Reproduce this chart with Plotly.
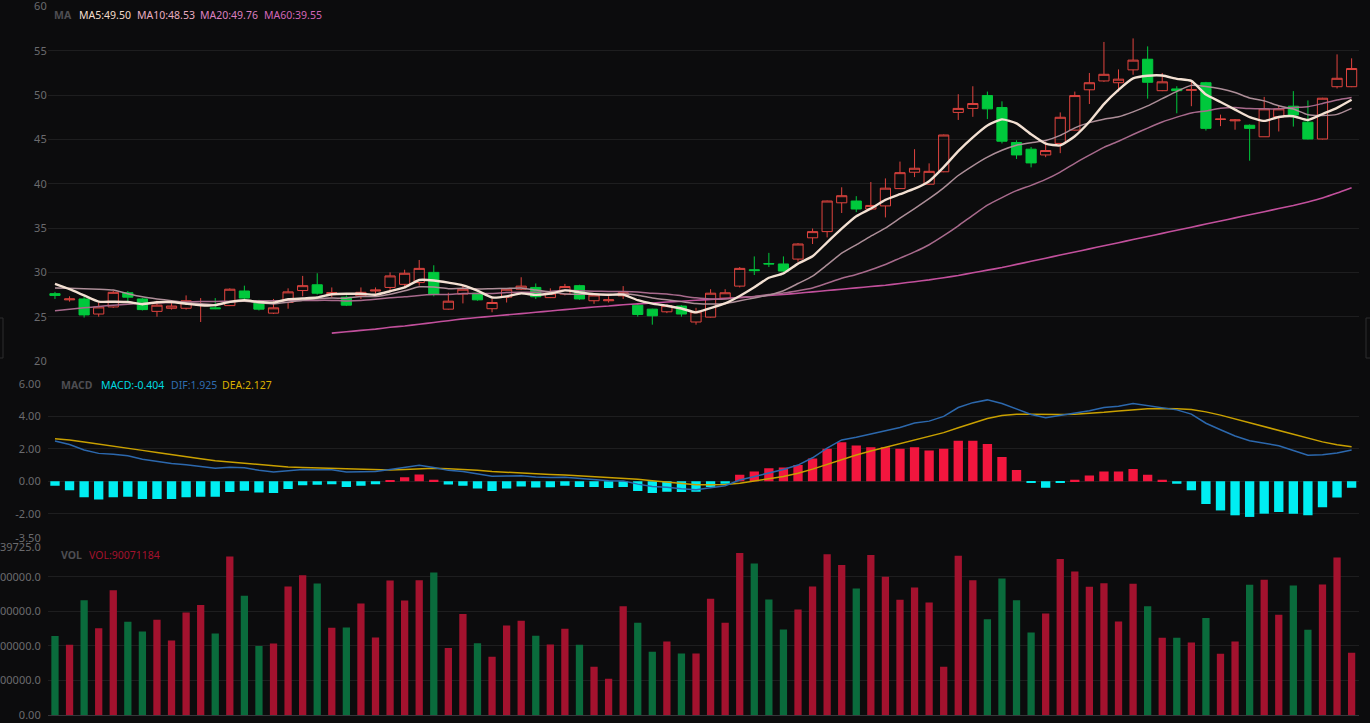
import plotly.graph_objects as go

W, H = 1370, 723

# ---------------- data ----------------
opens = [27.6, 26.9, 27.0, 25.3, 26.1, 27.7, 27.0, 25.6, 25.95, 25.95,
         26.3, 26.0, 26.25, 27.9, 26.6, 25.4, 26.6, 27.95, 28.6, 27.6,
         27.2, 27.35, 27.9, 28.3, 28.65, 28.85, 30.0, 25.85, 27.55, 27.65,
         25.9, 27.2, 28.1, 28.3, 27.15, 27.55, 28.5, 26.8, 26.8, 27.35,
         26.3, 25.85, 25.55, 26.2, 24.4, 24.95, 27.1, 28.45, 30.3, 31.0,
         30.95, 31.5, 33.9, 34.6, 37.85, 38.05, 37.15, 37.5, 39.45, 41.3,
         39.95, 41.35, 48.05, 48.5, 49.95, 48.6, 44.65, 43.9, 43.25, 44.55,
         46.05, 50.6, 51.6, 51.4, 52.85, 54.05, 50.5, 50.7, 50.55, 51.4,
         47.25, 47.1, 46.6, 45.3, 47.55, 48.75, 46.95, 45.05, 50.95, 50.95]
highs = [27.8, 27.3, 27.3, 26.6, 27.9, 27.9, 27.1, 26.8, 26.6, 27.4,
         27.1, 27.1, 28.2, 28.5, 26.9, 27.0, 28.2, 29.6, 29.9, 28.3,
         27.4, 28.3, 28.3, 30.0, 30.3, 31.4, 30.8, 27.7, 28.6, 27.7,
         27.0, 28.2, 29.45, 28.75, 28.2, 28.7, 28.6, 27.6, 27.3, 28.45,
         26.45, 25.9, 26.4, 26.3, 26.0, 28.1, 28.1, 30.6, 31.8, 32.2,
         31.8, 33.3, 34.95, 38.1, 39.6, 38.6, 40.2, 40.6, 42.5, 43.9,
         42.3, 45.55, 50.1, 51.0, 50.4, 49.3, 44.9, 44.15, 44.75, 48.05,
         50.4, 52.5, 56.0, 52.9, 56.4, 55.5, 52.5, 51.0, 51.7, 51.5,
         47.8, 47.3, 46.7, 49.8, 48.8, 50.45, 49.4, 49.7, 54.6, 54.15]
lows = [27.0, 26.7, 24.9, 25.0, 26.0, 26.6, 25.7, 25.0, 25.8, 25.8,
        24.4, 25.85, 26.2, 26.7, 25.7, 25.3, 25.9, 27.3, 27.5, 27.2,
        26.2, 27.0, 27.6, 27.8, 28.3, 28.5, 27.3, 25.8, 26.5, 26.8,
        25.5, 26.6, 28.0, 27.0, 27.1, 27.4, 26.9, 26.45, 26.6, 27.0,
        25.0, 24.1, 25.4, 25.0, 24.1, 24.9, 27.0, 28.3, 29.7, 30.6,
        30.0, 31.2, 33.2, 33.95, 36.7, 36.8, 37.0, 36.2, 39.4, 40.75,
        39.9, 41.3, 47.2, 47.55, 47.3, 44.55, 42.8, 41.85, 43.0, 43.45,
        46.0, 49.0, 51.5, 50.4, 52.3, 49.6, 50.45, 47.95, 48.75, 46.0,
        46.5, 46.1, 42.6, 45.3, 45.9, 46.45, 45.0, 45.0, 50.75, 50.9]
closes = [27.4, 27.0, 25.2, 26.1, 27.75, 27.2, 25.8, 26.3, 26.2, 26.8,
          26.35, 25.9, 28.1, 27.1, 25.85, 26.0, 27.8, 28.5, 27.65, 27.7,
          26.3, 27.75, 28.0, 29.6, 29.9, 30.45, 27.5, 26.75, 28.1, 26.9,
          26.6, 28.1, 28.45, 27.25, 27.65, 28.4, 27.0, 27.45, 26.9, 27.7,
          25.25, 25.1, 26.25, 25.3, 25.55, 27.65, 27.7, 30.45, 30.2, 30.95,
          30.15, 33.2, 34.6, 38.05, 38.65, 37.15, 37.55, 39.5, 41.25, 41.75,
          41.4, 45.5, 48.5, 49.05, 48.45, 44.8, 43.25, 42.35, 43.75, 47.5,
          49.95, 51.4, 52.35, 51.8, 53.95, 51.45, 51.5, 50.5, 50.6, 46.25,
          47.3, 47.2, 46.25, 48.45, 48.45, 47.75, 45.05, 49.65, 51.9, 53.0]
volumes = [114.2e6, 101.6e6, 166.2e6, 125.7e6, 180.6e6, 134.9e6, 120.9e6, 137.8e6, 107.9e6, 148.4e6,
           159.0e6, 118.0e6, 229.3e6, 172.4e6, 99.7e6, 103.6e6, 185.9e6, 202.3e6, 190.3e6, 126.2e6,
           126.7e6, 161.4e6, 112.2e6, 194.6e6, 165.7e6, 195.1e6, 206.2e6, 96.8e6, 146.0e6, 104.0e6,
           84.3e6, 129.6e6, 136.3e6, 114.6e6, 102.1e6, 124.8e6, 101.6e6, 69.8e6, 52.5e6, 157.5e6,
           133.4e6, 91.5e6, 106.5e6, 89.1e6, 89.1e6, 168.1e6, 133.4e6, 234.6e6, 219.2e6, 167.1e6,
           123.8e6, 152.7e6, 185.9e6, 232.7e6, 217.2e6, 183.0e6, 231.7e6, 199.9e6, 166.7e6, 184.5e6,
           162.8e6, 69.8e6, 230.3e6, 195.1e6, 138.7e6, 197.5e6, 166.2e6, 119.5e6, 146.9e6, 225.9e6,
           207.6e6, 185.5e6, 190.8e6, 135.4e6, 189.8e6, 157.5e6, 111.8e6, 111.8e6, 105.0e6, 140.2e6,
           88.6e6, 106.5e6, 188.3e6, 195.6e6, 145.0e6, 187.4e6, 123.3e6, 188.8e6, 227.8e6, 90071184]

ma5 = [28.7, 28.1, 27.4, 26.7, 26.69, 26.65, 26.41, 26.63, 26.65, 26.46,
       26.29, 26.31, 26.67, 26.85, 26.66, 26.59, 26.97, 27.05, 27.16, 27.53,
       27.59, 27.58, 27.48, 27.87, 28.31, 29.14, 29.09, 28.84, 28.54, 27.94,
       27.17, 27.29, 27.63, 27.46, 27.61, 27.97, 27.75, 27.55, 27.48, 27.49,
       26.86, 26.48, 26.24, 25.92, 25.49, 25.97, 26.49, 27.33, 28.31, 29.39,
       29.89, 30.99, 31.82, 33.39, 34.93, 36.33, 37.2, 38.18, 38.82, 39.44,
       40.29, 41.88, 43.68, 45.24, 46.58, 47.26, 46.81, 45.58, 44.52, 44.33,
       45.36, 46.99, 48.99, 50.6, 51.89, 52.19, 52.21, 51.84, 51.6, 50.06,
       49.23, 48.37, 47.52, 47.09, 47.53, 47.62, 47.19, 47.87, 48.56, 49.47]
ma10 = [28.25, 28.2, 28.15, 28.1, 28.0, 27.6, 27.25, 27.0, 26.8, 26.58,
        26.47, 26.36, 26.65, 26.75, 26.56, 26.44, 26.64, 26.86, 27.01, 27.10,
        27.09, 27.28, 27.27, 27.52, 27.92, 28.37, 28.34, 28.16, 28.21, 28.13,
        28.16, 28.19, 28.24, 28.0, 27.78, 27.57, 27.52, 27.59, 27.47, 27.55,
        27.42, 27.12, 26.90, 26.70, 26.49, 26.42, 26.49, 26.79, 27.12, 27.44,
        27.93, 28.74, 29.58, 30.85, 32.16, 33.11, 34.10, 35.0, 36.11, 37.19,
        38.31, 39.54, 40.93, 42.03, 43.01, 43.78, 44.35, 44.63, 44.88, 45.46,
        46.31, 46.9, 47.29, 47.56, 48.11, 48.78, 49.6, 50.42, 51.1, 50.98,
        50.71, 50.29, 49.68, 49.35, 48.80, 48.43, 47.78, 47.70, 47.83, 48.5]
ma20 = [25.68, 25.85, 26.0, 26.15, 26.3, 26.4, 26.5, 26.55, 26.6, 26.65,
        26.7, 26.72, 26.75, 26.78, 26.8, 26.8, 26.82, 26.83, 26.84, 26.84,
        26.78, 26.82, 26.96, 27.13, 27.24, 27.40, 27.49, 27.51, 27.61, 27.61,
        27.62, 27.73, 27.75, 27.76, 27.85, 27.97, 27.93, 27.88, 27.84, 27.84,
        27.79, 27.65, 27.57, 27.35, 27.13, 26.99, 27.00, 27.19, 27.29, 27.50,
        27.67, 27.93, 28.24, 28.78, 29.33, 29.76, 30.29, 30.89, 31.61, 32.31,
        33.12, 34.14, 35.25, 36.44, 37.59, 38.44, 39.22, 39.82, 40.49, 41.32,
        42.31, 43.22, 44.11, 44.80, 45.56, 46.28, 46.97, 47.52, 47.99, 48.22,
        48.51, 48.60, 48.48, 48.45, 48.45, 48.60, 48.69, 49.06, 49.46, 49.74]
ma60 = [23.15, 23.3, 23.45, 23.6, 23.8, 23.95, 24.15, 24.35, 24.55, 24.75,
        24.9, 25.05, 25.2, 25.35, 25.5, 25.65, 25.8, 25.95, 26.1, 26.2,
        26.35, 26.45, 26.55, 26.65, 26.75, 26.85, 26.95, 27.05, 27.15, 27.25,
        27.4, 27.5, 27.65, 27.8, 27.95, 28.1, 28.25, 28.4, 28.55, 28.75,
        28.95, 29.15, 29.4, 29.65, 29.95, 30.25, 30.55, 30.9, 31.25, 31.6,
        31.95, 32.3, 32.65, 33.0, 33.35, 33.7, 34.05, 34.4, 34.75, 35.1,
        35.45, 35.8, 36.15, 36.5, 36.85, 37.2, 37.55, 37.95, 38.4, 38.95,
        39.55]

macd_hist = [-0.27, -0.56, -0.99, -1.13, -0.99, -0.95, -1.09, -1.09, -1.09, -0.99,
             -0.95, -0.95, -0.66, -0.58, -0.70, -0.72, -0.47, -0.25, -0.21, -0.19,
             -0.35, -0.27, -0.19, 0.05, 0.25, 0.41, 0.10, -0.20, -0.27, -0.45,
             -0.60, -0.45, -0.33, -0.39, -0.37, -0.27, -0.35, -0.35, -0.41, -0.35,
             -0.60, -0.72, -0.64, -0.66, -0.64, -0.35, -0.15, 0.4, 0.6, 0.8,
             0.85, 1.0, 1.4, 2.0, 2.4, 2.2, 2.1, 2.1, 2.0, 2.1,
             1.9, 2.0, 2.5, 2.5, 2.3, 1.5, 0.7, -0.05, -0.4, -0.1,
             0.1, 0.35, 0.6, 0.6, 0.75, 0.4, 0.1, -0.15, -0.55, -1.4,
             -1.8, -2.1, -2.2, -2.0, -1.9, -2.0, -2.1, -1.6, -1.0, -0.404]
dif = [2.485, 2.27, 1.931, 1.72, 1.666, 1.567, 1.361, 1.225, 1.089, 1.015,
       0.916, 0.797, 0.859, 0.826, 0.678, 0.578, 0.644, 0.723, 0.717, 0.703,
       0.579, 0.585, 0.601, 0.727, 0.858, 0.989, 0.847, 0.672, 0.603, 0.457,
       0.307, 0.326, 0.345, 0.266, 0.23, 0.246, 0.162, 0.118, 0.037, 0.023,
       -0.177, -0.327, -0.367, -0.46, -0.53, -0.395, -0.275, 0.08, 0.3, 0.55,
       0.725, 1.0, 1.45, 2.05, 2.55, 2.72, 2.92, 3.15, 3.32, 3.6,
       3.71, 4.0, 4.55, 4.85, 5.02, 4.8, 4.48, 4.115, 3.92, 4.07,
       4.19, 4.355, 4.55, 4.63, 4.795, 4.67, 4.54, 4.405, 4.145, 3.58,
       3.18, 2.79, 2.5, 2.36, 2.19, 1.9, 1.6, 1.63, 1.75, 1.925]
dea = [2.62, 2.55, 2.426, 2.285, 2.161, 2.042, 1.906, 1.770, 1.634, 1.510,
       1.391, 1.272, 1.189, 1.116, 1.028, 0.938, 0.879, 0.848, 0.822, 0.798,
       0.754, 0.720, 0.696, 0.702, 0.733, 0.784, 0.797, 0.772, 0.738, 0.682,
       0.607, 0.551, 0.510, 0.461, 0.415, 0.381, 0.337, 0.293, 0.242, 0.198,
       0.123, 0.033, -0.047, -0.130, -0.210, -0.22, -0.2, -0.12, 0.0, 0.15,
       0.3, 0.5, 0.75, 1.05, 1.35, 1.62, 1.87, 2.1, 2.32, 2.55,
       2.76, 3.0, 3.3, 3.6, 3.87, 4.05, 4.13, 4.14, 4.12, 4.12,
       4.14, 4.18, 4.25, 4.33, 4.42, 4.47, 4.49, 4.48, 4.42, 4.28,
       4.08, 3.84, 3.6, 3.36, 3.14, 2.9, 2.65, 2.43, 2.25, 2.127]

price_ticks = [20, 25, 30, 35, 40, 45, 50, 55, 60]
macd_ticks = [-3.5, -2, 0, 2, 4, 6]
macd_ticktext = ["-3.50", "-2.00", "0.00", "2.00", "4.00", "6.00"]
vol_max = 243539725
vol_ticks = [0, 50000000, 100000000, 150000000, 200000000, vol_max]
vol_ticktext = ["0.00", "50000000.0", "100000000.0", "150000000.0", "200000000.0", "243539725.0"]

# ---------------- styling ----------------
BG = "#0c0c0d"
GRID = "#1e1e1f"
TICK = "#6b6b6e"
UP = "#e0443f"
DOWN = "#00c83c"
VOL_UP = "#a3122e"
VOL_DOWN = "#0a6b3c"
FONT = "Noto Sans"

n = len(closes)
x = list(range(n))

fig = go.Figure()

fig.add_trace(go.Candlestick(
    x=x, open=opens, high=highs, low=lows, close=closes,
    increasing=dict(line=dict(color=UP, width=1), fillcolor="rgba(0,0,0,0)"),
    decreasing=dict(line=dict(color=DOWN, width=1), fillcolor=DOWN),
    whiskerwidth=0, xaxis="x", yaxis="y", showlegend=False, hoverinfo="skip"))

for vals, col, w in [(ma60, "#c2509c", 1.6), (ma20, "#a86a8c", 1.5),
                     (ma10, "#ad8e98", 1.5), (ma5, "#f3e0d2", 2.4)]:
    fig.add_trace(go.Scatter(
        x=x[n - len(vals):], y=vals, mode="lines",
        line=dict(color=col, width=w, shape="spline", smoothing=0.5),
        xaxis="x", yaxis="y", showlegend=False, hoverinfo="skip"))

fig.add_trace(go.Bar(
    x=x, y=macd_hist, width=0.64,
    marker=dict(color=["#f2163e" if v > 0 else "#00eef2" for v in macd_hist], line=dict(width=0)),
    xaxis="x2", yaxis="y2", showlegend=False, hoverinfo="skip"))
fig.add_trace(go.Scatter(x=x, y=dea, mode="lines", line=dict(color="#c9a000", width=1.5),
                         xaxis="x2", yaxis="y2", showlegend=False, hoverinfo="skip"))
fig.add_trace(go.Scatter(x=x, y=dif, mode="lines", line=dict(color="#2c68ad", width=1.5),
                         xaxis="x2", yaxis="y2", showlegend=False, hoverinfo="skip"))

fig.add_trace(go.Bar(
    x=x, y=volumes, width=0.5,
    marker=dict(color=[VOL_UP if c >= o else VOL_DOWN for o, c in zip(opens, closes)], line=dict(width=0)),
    xaxis="x3", yaxis="y3", showlegend=False, hoverinfo="skip"))

xdom = [47.7 / W, 1358.9 / W]


def xax(anchor, **kw):
    d = dict(domain=xdom, range=[-0.5, n - 0.5], showticklabels=False, showgrid=False,
             zeroline=False, anchor=anchor, fixedrange=True, automargin=False)
    d.update(kw)
    return d


def yax(dom, rng, tv, tt, **kw):
    d = dict(domain=[1 - dom[1] / H, 1 - dom[0] / H], range=rng, tickvals=tv, ticktext=tt,
             showgrid=True, gridcolor=GRID, gridwidth=1, zeroline=False, ticks="",
             tickfont=dict(family=FONT, size=11, color=TICK), fixedrange=True,
             automargin=False, ticklabeloverflow="allow", anchor=kw.pop("anchor"))
    d.update(kw)
    return d


annotations = []


def label(px, py, text, color, bold=False):
    annotations.append(dict(
        xref="paper", yref="paper", x=px / W, y=1 - py / H, xanchor="left", yanchor="middle",
        text=("<b>%s</b>" % text) if bold else text, showarrow=False,
        font=dict(family=FONT, size=10.5, color=color)))


label(52, 15, "MA", "#4e4e52", True)
label(77, 15, "MA5:49.50", "#f3dccb")
label(135, 15, "MA10:48.53", "#e9adc1")
label(198, 15, "MA20:49.76", "#dc80c0")
label(262, 15, "MA60:39.55", "#d266b8")
label(59, 385, "MACD", "#4e4e52", True)
label(99, 385, "MACD:-0.404", "#00d9e0")
label(169, 385, "DIF:1.925", "#2f6cb0")
label(220, 385, "DEA:2.127", "#d9b000")
label(59, 555, "VOL", "#4e4e52", True)
label(87, 555, "VOL:90071184", "#a3122e")

shapes = [
    dict(type="rect", xref="paper", yref="paper", x0=-8 / W, x1=3 / W,
         y0=1 - 358 / H, y1=1 - 318 / H, line=dict(color="#2c2c2e", width=1)),
    dict(type="rect", xref="paper", yref="paper", x0=1366 / W, x1=1380 / W,
         y0=1 - 358 / H, y1=1 - 318 / H, line=dict(color="#2c2c2e", width=1)),
]

fig.update_layout(
    width=W, height=H, autosize=False,
    margin=dict(l=0, r=0, t=0, b=0, pad=0),
    paper_bgcolor=BG, plot_bgcolor=BG,
    font=dict(family=FONT, size=11, color=TICK),
    showlegend=False, hovermode=False,
    boxgap=0.3, boxgroupgap=0.0, barmode="overlay",
    xaxis=xax("y", rangeslider=dict(visible=False)),
    xaxis2=xax("y2"),
    xaxis3=xax("y3", showline=True, linecolor="#36363a", linewidth=1),
    yaxis=yax((6.5, 361), [20, 60], price_ticks, [str(v) for v in price_ticks], anchor="x"),
    yaxis2=yax((384, 538), [-3.5, 6], macd_ticks, macd_ticktext, anchor="x2", ticklabelstandoff=6),
    yaxis3=yax((546.7, 715), [0, vol_max], vol_ticks, vol_ticktext, anchor="x3", ticklabelstandoff=6),
    annotations=annotations, shapes=shapes,
)

fig.write_html("out.html", config={"displayModeBar": False},
               post_script="document.body.style.margin='0';document.body.style.overflow='hidden';")
